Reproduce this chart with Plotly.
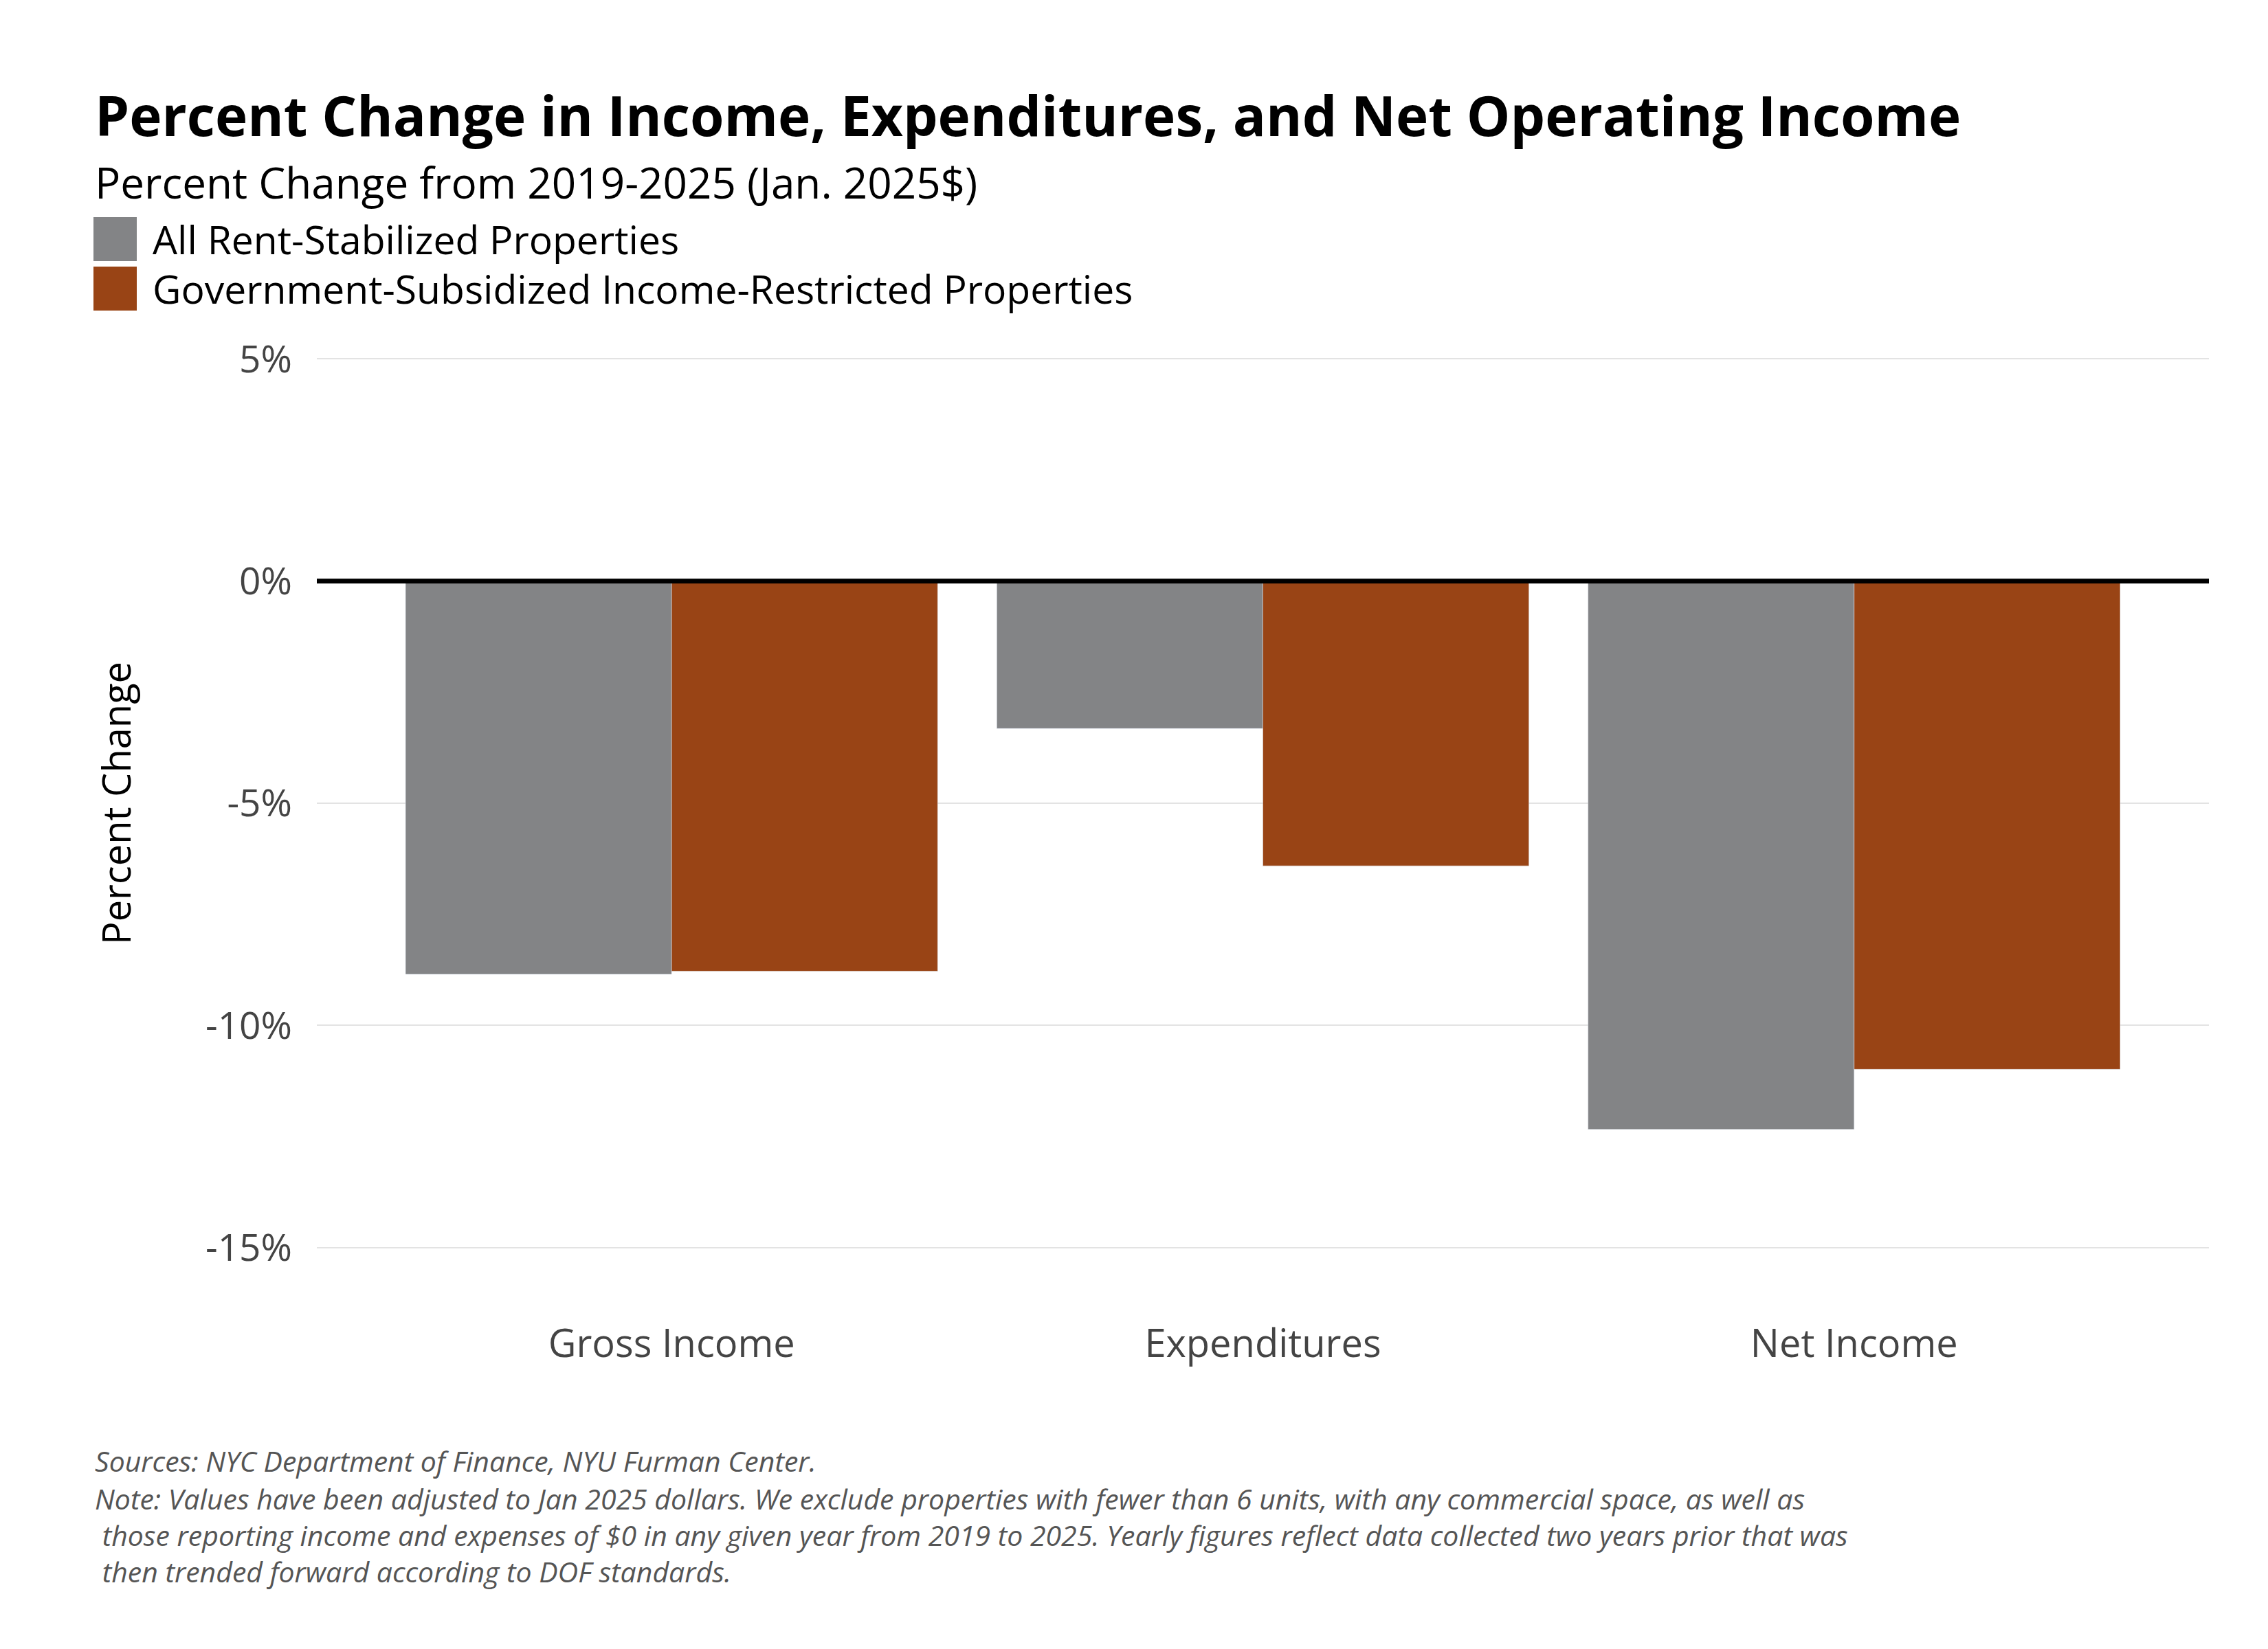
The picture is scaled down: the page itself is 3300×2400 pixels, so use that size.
import plotly.graph_objects as go

categories = ["Gross Income", "Expenditures", "Net Income"]
all_rs = [-8.85, -3.32, -12.34]
gov_sub = [-8.78, -6.41, -10.99]
series_names = ["All Rent-Stabilized Properties", "Government-Subsidized Income-Restricted Properties"]
colors = ["#838486", "#994415"]
tick_vals = [5, 0, -5, -10, -15]
tick_text = ["5%", "0%", "-5%", "-10%", "-15%"]

W, H = 3300, 2400
L, R, T, B = 453, 94, 482, 560
pw, ph = W - L - R, H - T - B
FONT = "Open Sans"

def px(x):
    return (x - L) / pw

def py(y):
    return (H - B - y) / ph

fig = go.Figure()
fig.add_bar(x=categories, y=all_rs, marker_color=colors[0], name=series_names[0])
fig.add_bar(x=categories, y=gov_sub, marker_color=colors[1], name=series_names[1])

ann = [
    dict(text="<b>Percent Change in Income, Expenditures, and Net Operating Income</b>",
         x=px(128), y=py(159), size=80, color="black", italic=False),
    dict(text="Percent Change from 2019-2025 (Jan. 2025$)", x=px(128), y=py(257), size=62, color="black", italic=False),
    dict(text=series_names[0], x=px(212), y=py(340), size=57, color="black", italic=False),
    dict(text=series_names[1], x=px(212), y=py(412), size=57, color="black", italic=False),
    dict(text="Sources: NYC Department of Finance, NYU Furman Center.", x=px(128), y=py(2118), size=41, color="#555555", italic=True),
    dict(text="Note: Values have been adjusted to Jan 2025 dollars. We exclude properties with fewer than 6 units, with any commercial space, as well as",
         x=px(128), y=py(2173), size=41, color="#555555", italic=True),
    dict(text=" those reporting income and expenses of $0 in any given year from 2019 to 2025. Yearly figures reflect data collected two years prior that was",
         x=px(128), y=py(2226), size=41, color="#555555", italic=True),
    dict(text=" then trended forward according to DOF standards.", x=px(128), y=py(2279), size=41, color="#555555", italic=True),
]
for a in ann:
    t = "<i>%s</i>" % a["text"] if a["italic"] else a["text"]
    fig.add_annotation(text=t, x=a["x"], y=a["y"], xref="paper", yref="paper",
                       xanchor="left", yanchor="middle", showarrow=False,
                       font=dict(family=FONT, size=a["size"], color=a["color"]))

for i, yc in enumerate([340, 412]):
    fig.add_shape(type="rect", xref="paper", yref="paper",
                  x0=px(128), x1=px(191), y0=py(yc - 32), y1=py(yc + 32),
                  fillcolor=colors[i], line_width=0)

fig.add_hline(y=0, line_color="black", line_width=7)

fig.update_layout(
    width=W, height=H, barmode="group", bargap=0.1, bargroupgap=0,
    showlegend=False, plot_bgcolor="white", paper_bgcolor="white",
    margin=dict(l=L, r=R, t=T, b=B),
    font=dict(family=FONT, color="#444444"),
    xaxis=dict(range=[-0.6, 2.6], tickfont=dict(size=56, color="#444444"),
               ticklabelstandoff=70, showgrid=False),
    yaxis=dict(range=[-15.5, 5.5], tickvals=tick_vals, ticktext=tick_text,
               tickfont=dict(size=55, color="#444444"), gridcolor="#e3e3e3", gridwidth=2,
               zeroline=False, ticklabelstandoff=35,
               title=dict(text="Percent Change", font=dict(size=56, color="black"), standoff=90)),
)

fig.write_html("out.html")
